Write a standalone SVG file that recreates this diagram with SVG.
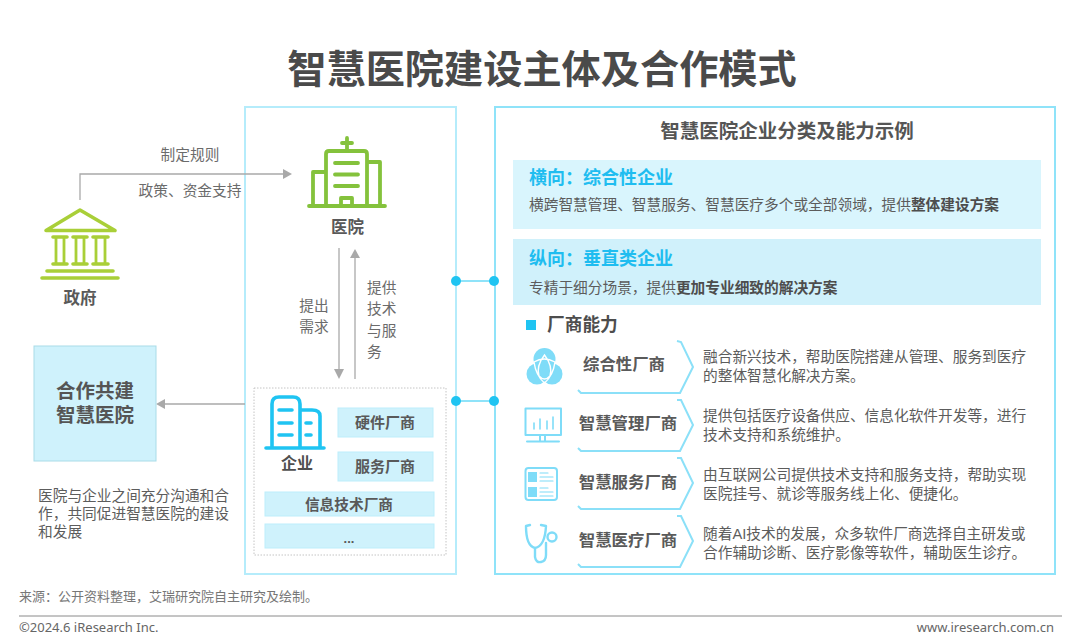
<svg xmlns="http://www.w3.org/2000/svg" width="1080" height="643" viewBox="0 0 1080 643">
<style>
text{font-family:"Liberation Sans","Noto Sans CJK SC",sans-serif;fill:#595959}
.t{font-size:14.7px;fill:#6b6b6b}
.b{font-size:15px;font-weight:700}
.n{font-size:16.4px;font-weight:700;fill:#5a5a5a}
.d{font-size:14.7px;fill:#5c5c5c}
.s{font-weight:700;fill:#4d4d4d}
.h{font-size:18px;font-weight:700;fill:#1fbdf0}
.c{text-anchor:middle}
.pane{fill:#fff;stroke:#b5ecfb;stroke-width:2}
.chip{fill:#cff2fc;stroke:#bdeefb;stroke-width:1}
.g{fill:none;stroke:#a9a9a9;stroke-width:1.3}
.ar{fill:#a9a9a9}
.dot{fill:#1fc4f2}
.ic{fill:none;stroke:#1fc4f2;stroke-width:3.6;stroke-linecap:round;stroke-linejoin:round}
.lc{fill:none;stroke:#7fdcf8;stroke-width:2;stroke-linecap:round;stroke-linejoin:round}
.chev{fill:none;stroke:#8be0f8;stroke-width:2}
.lg{fill:none;stroke:#a9cf38;stroke-width:3.6;stroke-linecap:round;stroke-linejoin:round}
.gg{fill:none;stroke:#84c23c;stroke-width:3.8;stroke-linecap:round;stroke-linejoin:round}
</style>
<rect width="1080" height="643" fill="#fff"/>
<text id="title" x="542" y="83" class="c" style="font-size:39.2px;font-weight:700;fill:#4a4a4a">智慧医院建设主体及合作模式</text>
<rect class="pane" x="245" y="107" width="211" height="467"/>
<rect class="pane" x="495" y="107" width="560" height="467" style="stroke:#8fe3f9"/>
<g id="connectors">
<path class="g" d="M80 200V174H283"/>
<path class="ar" d="M283 169L292 174L283 179Z"/>
<path class="g" d="M339 248V371"/>
<path class="ar" d="M334 369H344L339 379Z"/>
<path class="g" d="M355 379V258"/>
<path class="ar" d="M350 258H360L355 249Z"/>
<path class="g" d="M245 404H165"/>
<path class="ar" d="M165 399V409L156 404Z"/>
<path d="M456 281H495M456 401H495" stroke="#8fe3f9" stroke-width="2" fill="none"/>
<circle class="dot" cx="456" cy="281" r="5"/><circle class="dot" cx="494" cy="281" r="5"/>
<circle class="dot" cx="456" cy="401" r="5"/><circle class="dot" cx="494" cy="401" r="5"/>
</g>
<text class="t c" x="190" y="160">制定规则</text>
<text class="t c" x="190" y="196">政策、资金支持</text>
<text class="t c" x="314" y="311">提出</text><text class="t c" x="314" y="332">需求</text>
<text class="t" x="367" y="293">提供</text><text class="t" x="367" y="314">技术</text><text class="t" x="367" y="336">与服</text><text class="t" x="367" y="357">务</text>
<g id="gov">
<path class="lg" d="M46 230.500L80 210L115 230.500Z"/>
<path class="lg" d="M53 237H67M73 237H87M93 237H108M53 264H67M73 264H87M93 264H108M47 271H113M42 278H118"/>
<path class="lg" style="stroke-width:2.800" d="M56 238V263M64 238V263M76 238V263M84 238V263M96 238V263M105 238V263"/>
<text class="c" x="80" y="304" style="font-size:16.500px;font-weight:700">政府</text>
</g>
<g id="hospital">
<path class="gg" d="M326 206V154Q326 151 329 151H364Q367 151 367 154V206M326 172H313V206M367 162H380V206M309 206H385M335 163H358M335 174.500H358M335 186H358M341 206V198H352V206"/>
<path class="gg" d="M347 138V150M342 143H352"/>
<text class="c" x="347.500" y="233" style="font-size:16.500px;font-weight:700">医院</text>
</g>
<g id="cooperate">
<rect x="34" y="346" width="122" height="115" fill="#cff2fc" stroke="#a9dce8"/>
<text class="c" x="95" y="398" style="font-size:19.500px;font-weight:700;fill:#555">合作共建</text>
<text class="c" x="95" y="422" style="font-size:19.500px;font-weight:700;fill:#555">智慧医院</text>
</g>
<text class="d" x="38" y="501">医院与企业之间充分沟通和合</text>
<text class="d" x="38" y="519">作，共同促进智慧医院的建设</text>
<text class="d" x="38" y="537">和发展</text>
<g id="enterprise">
<rect x="254" y="388" width="192" height="167" fill="none" stroke="#c4c4c4" stroke-dasharray="1.500 1.500"/>
<path class="ic" d="M266 448H324M272 448V404Q272 397 279 397H293Q300 397 300 404V448M300 410H312Q320 410 320 416V448M279 410H292M279 423H292M279 435H292M306 423H311M306 435H311"/>
<text class="c" x="297" y="469" style="font-size:16px;font-weight:700;fill:#4f4f4f">企业</text>
<rect class="chip" x="338" y="408" width="95" height="29"/><text class="b c" x="385" y="428">硬件厂商</text>
<rect class="chip" x="338" y="452" width="95" height="29"/><text class="b c" x="385" y="472">服务厂商</text>
<rect class="chip" x="265" y="492" width="169" height="24"/><text class="c" x="349" y="510" style="font-size:14.700px;font-weight:700">信息技术厂商</text>
<rect class="chip" x="265" y="524" width="169" height="24"/><text class="c" x="349" y="543" style="font-size:13px;font-weight:700">...</text>
</g>
<text class="c" x="787" y="138" style="font-size:19.500px;font-weight:700;fill:#555">智慧医院企业分类及能力示例</text>
<g id="horizontal">
<rect x="513" y="160" width="528" height="69" fill="#d9f5fd"/>
<text class="h" x="529" y="184">横向：综合性企业</text>
<text class="d" x="529" y="210">横跨智慧管理、智慧服务、智慧医疗多个或全部领域，提供<tspan class="s">整体建设方案</tspan></text>
</g>
<g id="vertical">
<rect x="513" y="239" width="528" height="66" fill="#d0f1fb"/>
<text class="h" x="529" y="265">纵向：垂直类企业</text>
<text class="d" x="529" y="293">专精于细分场景，提供<tspan class="s">更加专业细致的解决方案</tspan></text>
</g>
<rect x="526" y="320" width="10" height="10" fill="#1fc4f2"/>
<text x="547" y="331" style="font-size:17.700px;font-weight:700;fill:#4d4d4d">厂商能力</text>
<g id="v1">
<g fill="#7fdcf8"><circle cx="544.500" cy="359" r="11"/><circle cx="537" cy="374" r="10.500"/><circle cx="552" cy="374" r="10.500"/></g>
<path d="M534 362Q544 356 555 362Q553 376 544.500 383Q536 376 534 362ZM544.500 355Q553 366 550 376Q544.500 382 539 376Q536 366 544.500 355Z" fill="none" stroke="#fff" stroke-width="1.400"/>
<path class="chev" d="M677 341L681 342L693 367L680 393H581L578 390"/>
<text class="n c" x="624" y="370">综合性厂商</text>
<text class="d" x="703" y="362">融合新兴技术，帮助医院搭建从管理、服务到医疗</text>
<text class="d" x="703" y="381">的整体智慧化解决方案。</text>
</g>
<g id="v2">
<path class="lc" d="M525.500 408.500H561V435H525.500ZM540 435V441M545 435V441M527 441.500H559"/>
<path class="lc" style="stroke-width:1.600" d="M534 429V423M540 429V419M547 429V421M553 429V417"/>
<path class="chev" d="M677 400L681 400L693 425L680 451H581L578 448"/>
<text class="n c" x="628" y="429">智慧管理厂商</text>
<text class="d" x="703" y="421">提供包括医疗设备供应、信息化软件开发等，进行</text>
<text class="d" x="703" y="440">技术支持和系统维护。</text>
</g>
<g id="v3">
<rect class="lc" x="525.500" y="468" width="31.500" height="32" rx="3"/>
<path d="M528 472H537V482H528ZM528 487H537V497H528Z" fill="#7fdcf8"/>
<path class="lc" style="stroke-width:1.200" d="M540 473H548M540 477H553M540 481H553M540 488H548M540 492H553M540 496H553"/>
<path class="chev" d="M677 458L681 458L693 483L680 509H581L578 506"/>
<text class="n c" x="628" y="488">智慧服务厂商</text>
<text class="d" x="703" y="480">由互联网公司提供技术支持和服务支持，帮助实现</text>
<text class="d" x="703" y="499">医院挂号、就诊等服务线上化、便捷化。</text>
</g>
<g id="v4">
<path class="lc" style="stroke-width:2.400" d="M530 525L526 526Q526 546 535 548Q545 546 546 526L541 525M535 548V557Q536 563 541 562Q546 561 546 555V543"/>
<circle class="lc" style="stroke-width:2.400" cx="552" cy="537" r="4.500"/>
<path class="chev" d="M677 516L681 516L693 541L680 567H581L578 564"/>
<text class="n c" x="628" y="546">智慧医疗厂商</text>
<text class="d" x="703" y="539">随着AI技术的发展，众多软件厂商选择自主研发或</text>
<text class="d" x="703" y="558">合作辅助诊断、医疗影像等软件，辅助医生诊疗。</text>
</g>
<text x="19" y="601" style="font-size:13px;fill:#777">来源：公开资料整理，艾瑞研究院自主研究及绘制。</text>
<line x1="19" y1="616" x2="1062" y2="616" stroke="#8a8a8a" stroke-width="1"/>
<text x="19" y="632" style="font-size:13px;fill:#666;font-family:'Noto Sans',sans-serif">©2024.6 iResearch Inc.</text>
<text x="1054" y="632" text-anchor="end" style="font-size:13px;fill:#666;font-family:'Noto Sans',sans-serif">www.iresearch.com.cn</text>
</svg>
